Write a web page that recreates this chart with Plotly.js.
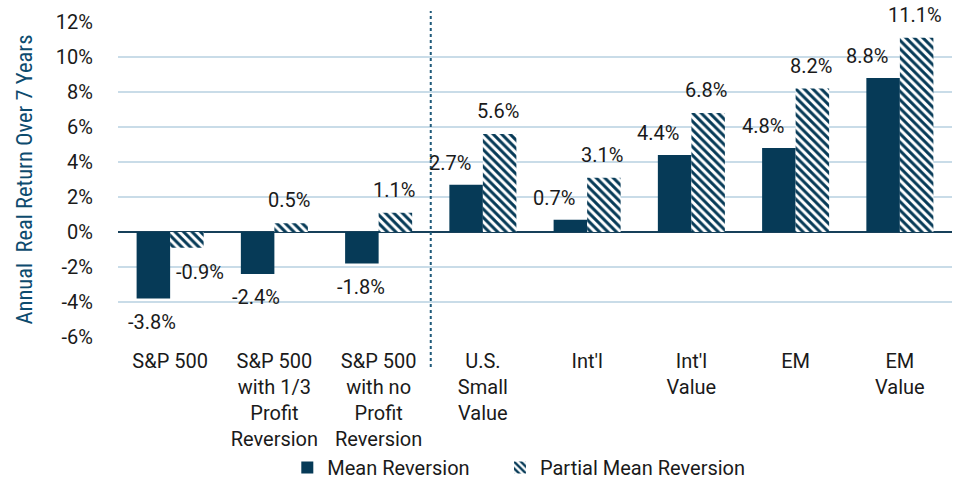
<!DOCTYPE html>
<html>
<head>
<meta charset="utf-8">
<script src="https://cdn.plot.ly/plotly-3.0.1.min.js"></script>
<style>html,body{margin:0;padding:0;background:#fff;}#chart{width:963px;height:487px;}</style>
</head>
<body>
<div id="chart"></div>
<script>
const categories = [
  "S&P 500",
  "S&P 500<br>with 1/3<br>Profit<br>Reversion",
  "S&P 500<br>with no<br>Profit<br>Reversion",
  "U.S.<br>Small<br>Value",
  "Int'l",
  "Int'l<br>Value",
  "EM",
  "EM<br>Value"
];
const meanReversion = [-3.8, -2.4, -1.8, 2.7, 0.7, 4.4, 4.8, 8.8];
const partialMeanReversion = [-0.9, 0.5, 1.1, 5.6, 3.1, 6.8, 8.2, 11.1];
const yTicks = [-6, -4, -2, 0, 2, 4, 6, 8, 10, 12];

const navy = "#063a57";
const fontFam = "Roboto, 'Liberation Sans', Arial, sans-serif";
const fs = 20;

const traces = [
  {
    type: "bar", name: "Mean Reversion", x: categories, y: meanReversion, legend: "legend",
    showlegend: true,
    marker: { color: navy, line: { width: 0 } }
  },
  {
    type: "bar", name: "Partial Mean Reversion", x: categories, y: partialMeanReversion, legend: "legend2",
    showlegend: true,
    marker: { color: "#ffffff", line: { width: 0 },
      pattern: { shape: "\\", fgcolor: navy, bgcolor: "#ffffff", size: 6, solidity: 0.5, fillmode: "replace" } }
  }
];

const annotations = [];
meanReversion.forEach((v, i) => {
  annotations.push({
    x: categories[i], y: v, xref: "x", yref: "y", showarrow: false,
    text: v.toFixed(1) + "%", yanchor: "middle",
    xshift: v >= 0 ? -33 : -18, yshift: v >= 0 ? 22 : -23,
    font: { family: fontFam, size: fs, color: "#1a1a1a" }
  });
});
partialMeanReversion.forEach((v, i) => {
  annotations.push({
    x: categories[i], y: v, xref: "x", yref: "y", showarrow: false,
    text: v.toFixed(1) + "%", yanchor: "middle",
    xshift: v >= 0 ? 15 : 30, yshift: v >= 0 ? 23 : -24,
    font: { family: fontFam, size: fs, color: "#1a1a1a" }
  });
});

const legendBase = {
  orientation: "h", xanchor: "left", yref: "container", y: -0.0123, yanchor: "bottom",
  font: { family: fontFam, size: fs, color: "#1a1a1a" }, itemwidth: 30, bgcolor: "rgba(0,0,0,0)"
};

const layout = {
  width: 963, height: 487,
  showlegend: true,
  margin: { l: 118, r: 11, t: 22, b: 150 },
  paper_bgcolor: "#ffffff", plot_bgcolor: "#ffffff",
  barmode: "group", bargap: 0.357, bargroupgap: 0,
  font: { family: fontFam, size: fs, color: "#1a1a1a" },
  xaxis: {
    type: "category", showgrid: false, zeroline: false, showline: false,
    ticks: "", ticklabelstandoff: 10,
    tickfont: { family: fontFam, size: fs, color: "#1a1a1a" }, automargin: false
  },
  yaxis: {
    range: [-6, 12], tickvals: yTicks, ticktext: yTicks.map(t => t + "%"),
    showgrid: true, gridcolor: "#c9dce8", gridwidth: 1.5,
    zeroline: true, zerolinecolor: "#17405a", zerolinewidth: 1.5,
    showline: false, ticks: "", ticklen: 0, ticklabelstandoff: 24,
    tickfont: { family: fontFam, size: fs, color: "#1a1a1a" },
    title: { text: "Annual  Real Return Over 7 Years", standoff: 16,
      font: { family: "'Liberation Sans Narrow', 'Roboto Condensed', Roboto, sans-serif", size: 22.5, color: "#0d4b6e" } },
    automargin: false
  },
  legend: Object.assign({}, legendBase, { x: 0.203 }),
  legend2: Object.assign({}, legendBase, { x: 0.458 }),
  shapes: [
    { type: "line", xref: "x", yref: "paper", x0: 2.5, x1: 2.5, y0: -0.095, y1: 1.035,
      line: { color: "#1f5a7a", width: 2, dash: "dot" } }
  ],
  annotations: annotations
};

Plotly.newPlot("chart", traces, layout, { displayModeBar: false, staticPlot: true });
</script>
</body>
</html>
